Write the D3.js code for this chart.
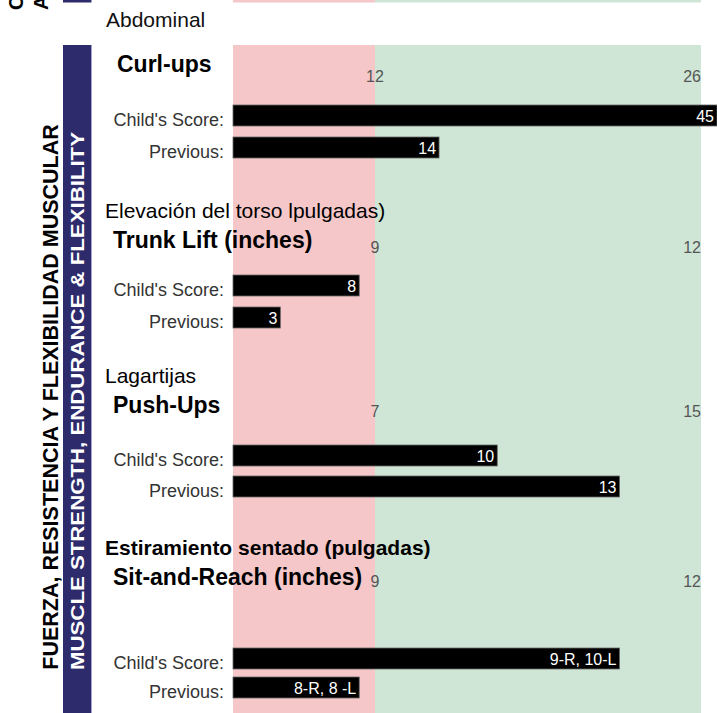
<!DOCTYPE html>
<html>
<head>
<meta charset="utf-8">
<script src="https://cdn.jsdelivr.net/npm/d3@7"></script>
<style>
  body { margin: 0; background: #fff; }
  svg { display: block; font-family: "Liberation Sans", Arial, sans-serif; }
</style>
</head>
<body>
<svg width="717" height="713"></svg>
<script>
// fitness report card, muscle strength section

// chart data
var tests = ["Curl-ups", "Trunk Lift (inches)", "Push-Ups", "Sit-and-Reach (inches)"];
var testsSpanish = ["", "Elevación del torso lpulgadas)", "Lagartijas", "Estiramiento sentado (pulgadas)"];
var hfzLow = [12, 9, 7, 9];      // start of healthy fitness zone
var hfzHigh = [26, 12, 15, 12];  // top of healthy fitness zone
var childScores = [45, 8, 10, 11.25];
var childLabels = ["45", "8", "10", "9-R, 10-L"];
var previousScores = [14.75, 3, 13, 8];
var previousLabels = ["14", "3", "13", "8-R, 8 -L"];

var svg = d3.select("svg"),
    width = +svg.attr("width"),
    height = +svg.attr("height");

// layout
var zoneX = [233, 375, 701];   // left of red zone, start of green zone, right end
var bandTop = 45;
var titleX = [117, 113, 113, 113];
var titleY = [72, 248, 413, 585];
var tickY = [82, 253, 417, 587];
var childY = [105, 275, 445, 648];
var prevY = [137, 307, 476, 677];
var barH = 21;

// background zones (small strip at top is the end of the section above)
[[0, 2.5], [bandTop, height]].forEach(function(r) {
    svg.append("rect").attr("x", zoneX[0]).attr("y", r[0])
        .attr("width", zoneX[1] - zoneX[0]).attr("height", r[1] - r[0])
        .attr("fill", "#f6c7c9");
    svg.append("rect").attr("x", zoneX[1]).attr("y", r[0])
        .attr("width", zoneX[2] - zoneX[1]).attr("height", r[1] - r[0])
        .attr("fill", "#cfe6d6");
    svg.append("rect").attr("x", 63).attr("y", r[0])
        .attr("width", 28).attr("height", r[1] - r[0])
        .attr("fill", "#2e2b6d");
    svg.append("line").attr("x1", 91.5).attr("x2", 91.5).attr("y1", r[0]).attr("y2", r[1])
        .attr("stroke", "#a3a3cf").attr("stroke-width", 1);
});

// leftovers of the rotated labels from the previous section
svg.append("text").attr("transform", "translate(23,10) rotate(-90)")
    .attr("font-size", 20).attr("font-weight", "bold").text("C");
svg.append("text").attr("transform", "translate(48,10) rotate(-90)")
    .attr("font-size", 20).attr("font-weight", "bold").text("A");

// section side labels
svg.append("text")
    .attr("transform", "translate(58,397) rotate(-90)")
    .attr("text-anchor", "middle")
    .attr("font-size", 21.5).attr("font-weight", "bold")
    .attr("fill", "#000")
    .text("FUERZA, RESISTENCIA Y FLEXIBILIDAD MUSCULAR");

svg.append("text")
    .attr("transform", "translate(84,401) rotate(-90)")
    .attr("text-anchor", "middle")
    .attr("font-size", 17.5).attr("font-weight", "bold")
    .attr("textLength", 538).attr("lengthAdjust", "spacingAndGlyphs")
    .attr("fill", "#fff")
    .text("MUSCLE STRENGTH, ENDURANCE & FLEXIBILITY");

svg.append("text").attr("x", 106).attr("y", 27)
    .attr("font-size", 21).attr("fill", "#111").text("Abdominal");

// one block per test
tests.forEach(function(name, i) {
    var x = d3.scaleLinear()
        .domain([0, hfzLow[i], hfzHigh[i]])
        .range(zoneX);

    var g = svg.append("g").attr("class", "test");

    if (testsSpanish[i]) {
        g.append("text").attr("x", 105).attr("y", titleY[i] - 30)
            .attr("font-size", 21)
            .attr("font-weight", i == 3 ? "bold" : "normal")
            .attr("fill", "#000")
            .text(testsSpanish[i]);
    }
    g.append("text").attr("x", titleX[i]).attr("y", titleY[i])
        .attr("font-size", 23).attr("font-weight", "bold").attr("fill", "#000")
        .text(name);

    // zone limits
    g.append("text").attr("x", x(hfzLow[i])).attr("y", tickY[i])
        .attr("text-anchor", "middle").attr("font-size", 16).attr("fill", "#555")
        .text(hfzLow[i]);
    g.append("text").attr("x", x(hfzHigh[i])).attr("y", tickY[i])
        .attr("text-anchor", "end").attr("font-size", 16).attr("fill", "#555")
        .text(hfzHigh[i]);

    var rows = [
        {label: "Child's Score:", y: childY[i], v: childScores[i], t: childLabels[i]},
        {label: "Previous:", y: prevY[i], v: previousScores[i], t: previousLabels[i]}
    ];

    rows.forEach(function(r) {
        var end = Math.min(x(r.v), width);
        g.append("text").attr("x", 224).attr("y", r.y + 21)
            .attr("text-anchor", "end").attr("font-size", 18).attr("fill", "#333")
            .text(r.label);
        g.append("rect")
            .attr("x", x(0)).attr("y", r.y)
            .attr("width", end - x(0)).attr("height", barH)
            .attr("fill", "#000").attr("stroke", "#666").attr("stroke-width", 0.8);
        g.append("text")
            .attr("x", end - 3)
            .attr("y", r.y + 17)
            .attr("text-anchor", "end").attr("font-size", 16).attr("fill", "#fff")
            .text(r.t);
    });
});
</script>
</body>
</html>
